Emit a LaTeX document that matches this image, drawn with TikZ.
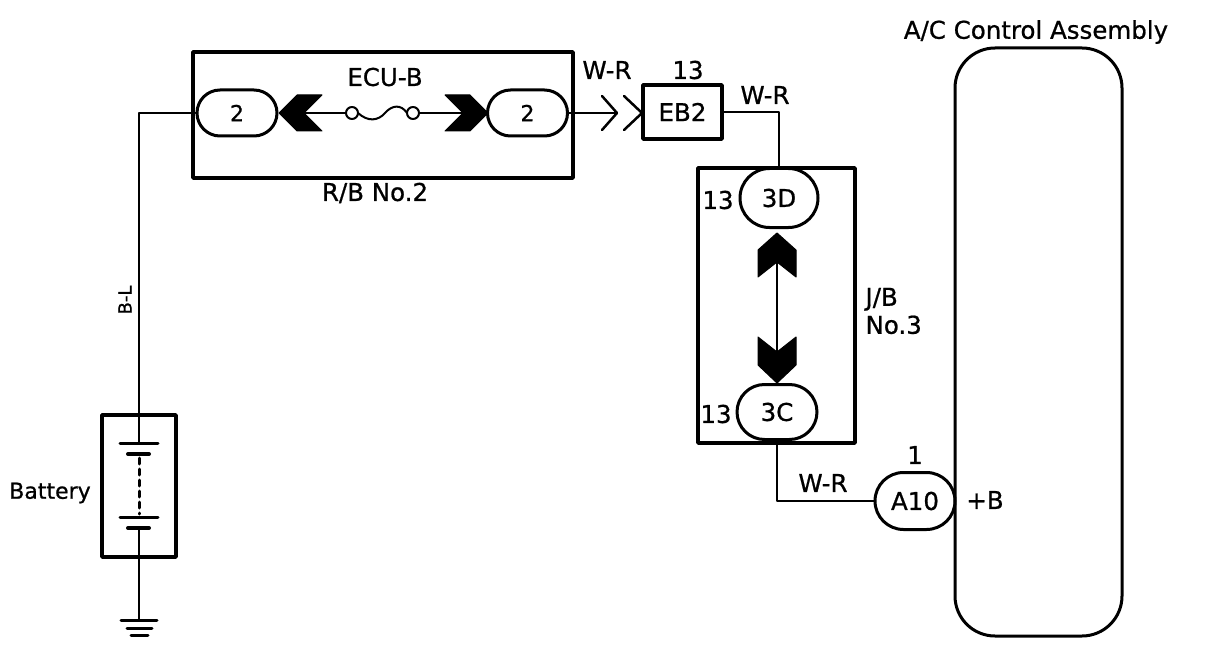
\documentclass[tikz,border=0pt]{standalone}
\usepackage{fontspec}
\setmainfont{DejaVu Sans}[FakeBold=0.8]
\usetikzlibrary{shapes.misc}
\begin{document}
\begin{tikzpicture}[x=1pt, y=-1pt, font=\fontsize{24.5}{28}\selectfont, line join=round, line cap=round,
  wire/.style={line width=2pt},
  frame/.style={draw, line width=3.5pt, inner sep=0pt},
  conn/.style={draw, rounded rectangle, line width=3pt, inner sep=0pt, minimum width=80pt, minimum height=46pt},
  chev/.style={fill=black, draw=black, line width=1pt}]
\useasboundingbox (0,0) rectangle (1216,666);
% boxes
\node[frame, minimum width=380pt, minimum height=126pt] (rb) at (383,115) {};
\node[frame, minimum width=157pt, minimum height=275pt] (jb) at (776.5,305.5) {};
\node[frame, minimum width=74pt, minimum height=142pt] (bat) at (139,486) {};
\node[frame, minimum width=79pt, minimum height=54pt] (eb) at (682.5,112) {EB2};
\node[draw, line width=3pt, rounded corners=40pt, minimum width=167pt, minimum height=588pt] (ac) at (1038.5,342) {};
% connectors
\node[conn, font=\fontsize{22}{24}\selectfont] (rbl) at (237,113) {2};
\node[conn, font=\fontsize{22}{24}\selectfont] (rbr) at (527.5,113) {2};
\node[conn, minimum width=78pt, minimum height=59pt] (jd) at (779,198) {3D};
\node[conn, minimum height=55pt] (jc) at (777,412) {3C};
\node[conn, minimum height=57pt] (a10) at (915,501) {A10};
% fuse
\coordinate (fl) at (304,113);
\coordinate (fr) at (463,113);
\draw[chev] (279,113)--(297,95)--(322,95)--(fl)--(322,131)--(297,131)--cycle;
\draw[chev] (488,113)--(470,95)--(445,95)--(fr)--(445,131)--(470,131)--cycle;
\draw[wire] (fl)--(346,113) (419,113)--(fr);
\draw[wire] (352,113) circle(6) (413,113) circle(6);
\draw[wire] (358,113) .. controls (368,122) and (378,121) .. (385,113) .. controls (392,105) and (401,104) .. (407,113);
% J/B chevrons
\coordinate (cu) at (777,262);
\coordinate (cd) at (777,352);
\draw[chev] (777,233)--(758,250)--(758,277)--(cu)--(796,277)--(796,250)--cycle;
\draw[chev] (758,337)--(cd)--(796,337)--(796,365)--(777,383)--(758,365)--cycle;
\draw[wire] (cu)--(cd);
% EB2 terminal
\coordinate (tp) at (617,113);
\draw[line width=2.5pt] (602,96)--(tp)--(602,130) (624,96)--(642,113)--(624,130);
% wires
\draw[wire] (rbl.west) -| (bat.north);
\draw[wire] (rbr.east) -- (tp);
\draw[wire] (eb.east) -| (jd.north);
\draw[wire] (jc.south) |- (a10.west);
% battery
\draw[wire] (bat.north)--(139,443) (139,528)--(bat.south);
\draw[line width=3pt] (120,443)--(158,443) (120,517)--(158,517);
\draw[line width=4pt] (128,454)--(149,454) (128,528)--(149,528);
\draw[line width=3pt, dash pattern=on 6pt off 5pt] (139,458)--(139,514);
\coordinate (gnd) at (139,620);
\draw[wire] (bat.south)--(gnd);
\draw[line width=3pt] (121,620)--(157,620) (127,628)--(152,628) (131,635)--(148,635);
% labels
\node (ecub) at (385,77) {ECU-B};
\node (rbn) at (375,193) {R/B No.2};
\node (wr1) at (607,70) {W-R};
\node (n13a) at (688,70) {13};
\node (wr2) at (765,95) {W-R};
\node (n13b) at (718,200) {13};
\node (n13c) at (716,414) {13};
\node[align=left, anchor=west] (jbn) at (862,311) {J/B\\No.3};
\node (wr3) at (823,483) {W-R};
\node (n1) at (915,455) {1};
\node (pb) at (985,500) {+B};
\node (acn) at (1036,32) {A/C Control Assembly};
\node[font=\fontsize{22}{24}\selectfont] (batn) at (50,493) {Battery};
\node[rotate=90, font=\fontsize{18}{20}\selectfont] (bl) at (125,300) {B-L};
\end{tikzpicture}
\end{document}
